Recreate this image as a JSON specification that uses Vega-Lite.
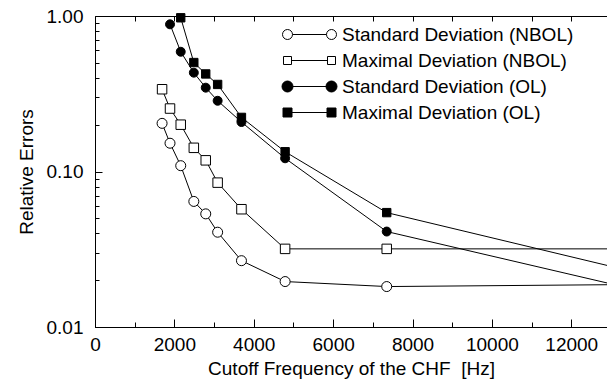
{
  "$schema": "https://vega.github.io/schema/vega-lite/v6.json",
  "autosize": {"type": "none"},
  "padding": {"left": 95, "top": 16, "right": 0, "bottom": 55},
  "width": 512,
  "height": 311,
  "config": {
    "view": {"stroke": "black", "strokeWidth": 1},
    "font": "Liberation Sans",
    "axis": {
      "domainColor": "black", "tickColor": "black", "labelColor": "black", "titleColor": "black",
      "labelFont": "Liberation Sans", "titleFont": "Liberation Sans",
      "labelFontSize": 19, "titleFontSize": 19, "titleFontWeight": "normal",
      "grid": false, "domainWidth": 1, "tickWidth": 1
    },
    "legend": {
      "orient": "none", "legendX": 205, "legendY": 9, "title": null, "padding": 0,
      "symbolSize": 100, "symbolStrokeWidth": 1, "symbolOpacity": 1,
      "labelFont": "Liberation Sans", "labelFontSize": 19, "labelColor": "black",
      "labelLimit": 400, "labelOffset": 23, "rowPadding": 6
    }
  },
  "datasets": {
    "d": [
      {"series": "Standard Deviation (NBOL)", "x": 1690, "y": 0.204},
      {"series": "Standard Deviation (NBOL)", "x": 1890, "y": 0.152},
      {"series": "Standard Deviation (NBOL)", "x": 2160, "y": 0.109},
      {"series": "Standard Deviation (NBOL)", "x": 2490, "y": 0.0642},
      {"series": "Standard Deviation (NBOL)", "x": 2790, "y": 0.0534},
      {"series": "Standard Deviation (NBOL)", "x": 3090, "y": 0.0407},
      {"series": "Standard Deviation (NBOL)", "x": 3690, "y": 0.0267},
      {"series": "Standard Deviation (NBOL)", "x": 4790, "y": 0.0196},
      {"series": "Standard Deviation (NBOL)", "x": 7350, "y": 0.0182},
      {"series": "Standard Deviation (NBOL)", "x": 12900, "y": 0.0187},
      {"series": "Maximal Deviation (NBOL)", "x": 1690, "y": 0.338},
      {"series": "Maximal Deviation (NBOL)", "x": 1890, "y": 0.254},
      {"series": "Maximal Deviation (NBOL)", "x": 2160, "y": 0.2},
      {"series": "Maximal Deviation (NBOL)", "x": 2490, "y": 0.142},
      {"series": "Maximal Deviation (NBOL)", "x": 2790, "y": 0.118},
      {"series": "Maximal Deviation (NBOL)", "x": 3090, "y": 0.0848},
      {"series": "Maximal Deviation (NBOL)", "x": 3690, "y": 0.0572},
      {"series": "Maximal Deviation (NBOL)", "x": 4790, "y": 0.0318},
      {"series": "Maximal Deviation (NBOL)", "x": 7350, "y": 0.0318},
      {"series": "Maximal Deviation (NBOL)", "x": 12900, "y": 0.0318},
      {"series": "Standard Deviation (OL)", "x": 1890, "y": 0.884},
      {"series": "Standard Deviation (OL)", "x": 2160, "y": 0.589},
      {"series": "Standard Deviation (OL)", "x": 2490, "y": 0.432},
      {"series": "Standard Deviation (OL)", "x": 2790, "y": 0.346},
      {"series": "Standard Deviation (OL)", "x": 3090, "y": 0.285},
      {"series": "Standard Deviation (OL)", "x": 3690, "y": 0.208},
      {"series": "Standard Deviation (OL)", "x": 4790, "y": 0.1216},
      {"series": "Standard Deviation (OL)", "x": 7350, "y": 0.0411},
      {"series": "Standard Deviation (OL)", "x": 12900, "y": 0.0192},
      {"series": "Maximal Deviation (OL)", "x": 2160, "y": 0.974},
      {"series": "Maximal Deviation (OL)", "x": 2490, "y": 0.502},
      {"series": "Maximal Deviation (OL)", "x": 2790, "y": 0.424},
      {"series": "Maximal Deviation (OL)", "x": 3090, "y": 0.363},
      {"series": "Maximal Deviation (OL)", "x": 3690, "y": 0.2228},
      {"series": "Maximal Deviation (OL)", "x": 4790, "y": 0.134},
      {"series": "Maximal Deviation (OL)", "x": 7350, "y": 0.0544},
      {"series": "Maximal Deviation (OL)", "x": 12900, "y": 0.0249}
    ]
  },
  "resolve": {
    "scale": {"shape": "independent", "fill": "independent", "stroke": "independent", "size": "independent"},
    "axis": {"x": "independent", "y": "independent"}
  },
  "layer": [
    {
      "data": {"name": "d"},
      "mark": {"type": "line", "stroke": "black", "strokeWidth": 1, "clip": true},
      "encoding": {
        "x": {
          "field": "x", "type": "quantitative",
          "scale": {"domain": [0, 12900], "nice": false, "zero": false},
          "axis": {
            "orient": "bottom",
            "values": [0, 2000, 4000, 6000, 8000, 10000, 12000],
            "format": "d",
            "tickSize": -8,
            "labelPadding": 16,
            "labelFlush": false,
            "labelOverlap": false,
            "title": "Cutoff Frequency of the CHF\u00a0 [Hz]",
            "titlePadding": 5
          }
        },
        "y": {
          "field": "y", "type": "quantitative",
          "scale": {"type": "log", "domain": [0.01, 1], "nice": false},
          "axis": {
            "orient": "left",
            "values": [0.01, 0.1, 1],
            "format": ".2f",
            "tickSize": -7,
            "labelPadding": 19,
            "labelFlush": false,
            "labelOverlap": false,
            "title": "Relative Errors",
            "titlePadding": 10
          }
        },
        "detail": {"field": "series", "type": "nominal"}
      }
    },
    {
      "data": {"name": "d"},
      "transform": [{"filter": "datum.x < 12800"}],
      "mark": {"type": "point", "filled": true, "stroke": "black", "strokeWidth": 1, "opacity": 1},
      "encoding": {
        "x": {
          "field": "x", "type": "quantitative",
          "scale": {"domain": [0, 12900], "nice": false, "zero": false},
          "axis": {
            "orient": "top",
            "values": [1000, 2000, 3000, 4000, 5000, 6000, 7000, 8000, 9000, 10000, 11000, 12000],
            "labels": false, "domain": false, "title": null, "tickSize": -5
          }
        },
        "y": {
          "field": "y", "type": "quantitative",
          "scale": {"type": "log", "domain": [0.01, 1], "nice": false},
          "axis": {
            "orient": "left",
            "values": [0.02, 0.03, 0.04, 0.05, 0.06, 0.07, 0.08, 0.09, 0.2, 0.3, 0.4, 0.5, 0.6, 0.7, 0.8, 0.9],
            "labels": false, "domain": false, "title": null, "tickSize": -4
          }
        },
        "shape": {
          "field": "series", "type": "nominal",
          "scale": {"domain": ["Standard Deviation (NBOL)", "Maximal Deviation (NBOL)", "Standard Deviation (OL)", "Maximal Deviation (OL)"], "range": ["circle", "square", "circle", "square"]},
          "legend": null
        },
        "fill": {
          "field": "series", "type": "nominal",
          "scale": {"domain": ["Standard Deviation (NBOL)", "Maximal Deviation (NBOL)", "Standard Deviation (OL)", "Maximal Deviation (OL)"], "range": ["white", "white", "black", "black"]},
          "legend": null
        },
        "size": {
          "field": "series", "type": "nominal",
          "scale": {"domain": ["Standard Deviation (NBOL)", "Maximal Deviation (NBOL)", "Standard Deviation (OL)", "Maximal Deviation (OL)"], "range": [100, 70, 115, 85]},
          "legend": null
        }
      }
    },
    {
      "data": {"name": "d"},
      "transform": [{"filter": "datum.x == 7350"}],
      "mark": {"type": "point", "opacity": 0, "clip": true},
      "encoding": {
        "x": {
          "field": "x", "type": "quantitative",
          "scale": {"domain": [0, 12900], "nice": false, "zero": false},
          "axis": {
            "orient": "bottom",
            "values": [1000, 3000, 5000, 7000, 9000, 11000],
            "labels": false, "domain": false, "title": null, "tickSize": -5
          }
        },
        "y": {
          "field": "y", "type": "quantitative",
          "scale": {"type": "log", "domain": [0.01, 1], "nice": false},
          "axis": null
        },
        "shape": {
          "field": "series", "type": "nominal",
          "scale": {
            "domain": ["Standard Deviation (NBOL)", "Maximal Deviation (NBOL)", "Standard Deviation (OL)", "Maximal Deviation (OL)"],
            "range": [
              "M-5.4,0 A1,1 0 1,0 -3.4,0 A1,1 0 1,0 -5.4,0 Z M-3.4,0 L3.4,0 M3.4,0 A1,1 0 1,0 5.4,0 A1,1 0 1,0 3.4,0 Z",
              "M-5.2,-0.8 L-3.6,-0.8 L-3.6,0.8 L-5.2,0.8 Z M-3.6,0 L3.6,0 M3.6,-0.8 L5.2,-0.8 L5.2,0.8 L3.6,0.8 Z",
              "M-5.5,0 A1.1,1.1 0 1,0 -3.3,0 A1.1,1.1 0 1,0 -5.5,0 Z M-3.3,0 L3.3,0 M3.3,0 A1.1,1.1 0 1,0 5.5,0 A1.1,1.1 0 1,0 3.3,0 Z",
              "M-5.3,-0.9 L-3.5,-0.9 L-3.5,0.9 L-5.3,0.9 Z M-3.5,0 L3.5,0 M3.5,-0.9 L5.3,-0.9 L5.3,0.9 L3.5,0.9 Z"
            ]
          },
          "legend": {}
        },
        "fill": {
          "field": "series", "type": "nominal",
          "scale": {"domain": ["Standard Deviation (NBOL)", "Maximal Deviation (NBOL)", "Standard Deviation (OL)", "Maximal Deviation (OL)"], "range": ["white", "white", "black", "black"]},
          "legend": {}
        },
        "stroke": {
          "field": "series", "type": "nominal",
          "scale": {"domain": ["Standard Deviation (NBOL)", "Maximal Deviation (NBOL)", "Standard Deviation (OL)", "Maximal Deviation (OL)"], "range": ["black", "black", "black", "black"]},
          "legend": {}
        }
      }
    }
  ]
}
